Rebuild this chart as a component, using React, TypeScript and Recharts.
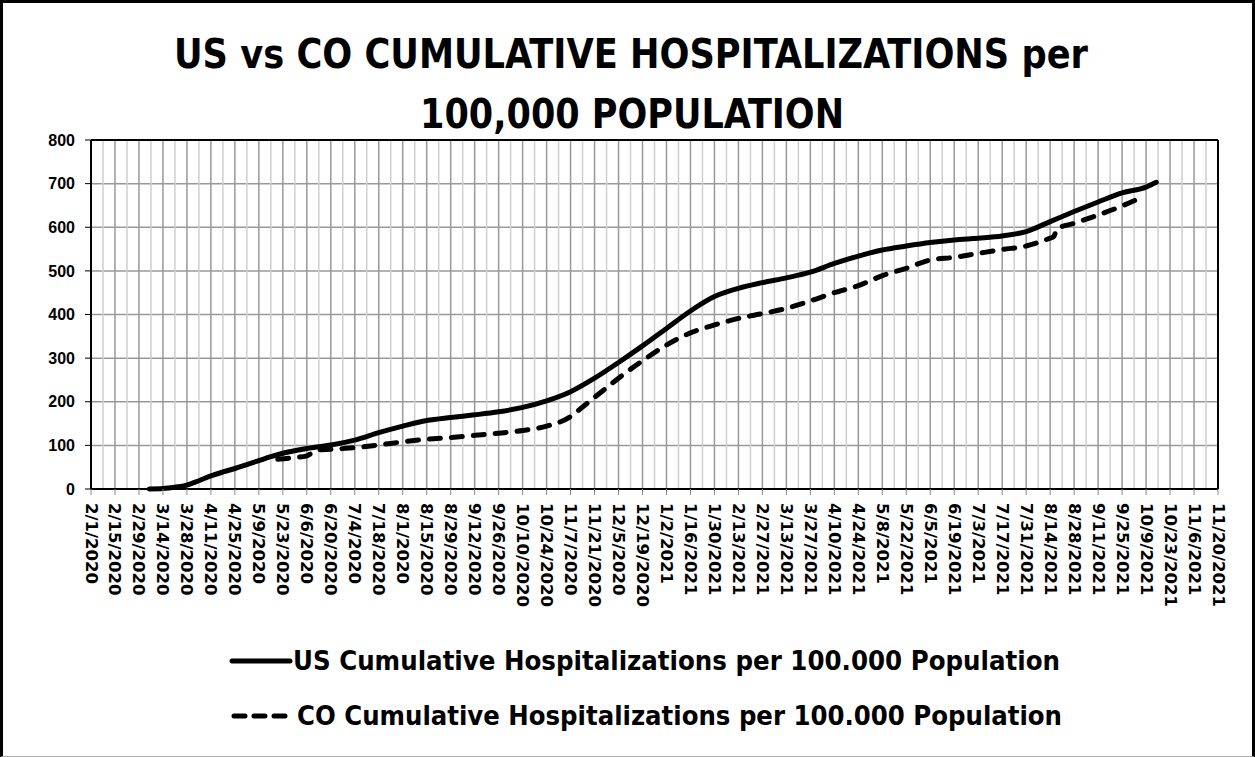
import React from "react";
import {
  LineChart,
  Line,
  XAxis,
  YAxis,
  CartesianGrid,
  ReferenceLine,
} from "recharts";

const tickLabels = [
  "2/1/2020", "2/15/2020", "2/29/2020", "3/14/2020", "3/28/2020", "4/11/2020",
  "4/25/2020", "5/9/2020", "5/23/2020", "6/6/2020", "6/20/2020", "7/4/2020",
  "7/18/2020", "8/1/2020", "8/15/2020", "8/29/2020", "9/12/2020", "9/26/2020",
  "10/10/2020", "10/24/2020", "11/7/2020", "11/21/2020", "12/5/2020", "12/19/2020",
  "1/2/2021", "1/16/2021", "1/30/2021", "2/13/2021", "2/27/2021", "3/13/2021",
  "3/27/2021", "4/10/2021", "4/24/2021", "5/8/2021", "5/22/2021", "6/5/2021",
  "6/19/2021", "7/3/2021", "7/17/2021", "7/31/2021", "8/14/2021", "8/28/2021",
  "9/11/2021", "9/25/2021", "10/9/2021", "10/23/2021", "11/6/2021", "11/20/2021",
];

const yTicks = [0, 100, 200, 300, 400, 500, 600, 700, 800];

const usDates = [
  "3/6/2020", "3/14/2020", "3/21/2020", "3/28/2020", "4/4/2020", "4/11/2020",
  "4/18/2020", "4/25/2020", "5/2/2020", "5/9/2020", "5/16/2020", "5/23/2020",
  "6/6/2020", "6/20/2020", "7/4/2020", "7/18/2020", "8/1/2020", "8/15/2020",
  "8/29/2020", "9/12/2020", "9/26/2020", "10/10/2020", "10/24/2020", "11/7/2020",
  "11/21/2020", "12/5/2020", "12/19/2020", "1/2/2021", "1/16/2021", "1/30/2021",
  "2/13/2021", "2/27/2021", "3/13/2021", "3/27/2021", "4/10/2021", "4/24/2021",
  "5/8/2021", "5/22/2021", "6/5/2021", "6/19/2021", "7/3/2021", "7/17/2021",
  "7/31/2021", "8/14/2021", "8/28/2021", "9/11/2021", "9/25/2021", "10/9/2021",
  "10/15/2021",
];
const usValues = [
  0, 1, 4, 9, 19, 30,
  39, 47, 56, 65, 74, 82,
  93, 101, 112, 129, 144, 157,
  164, 170, 177, 187, 202, 223,
  254, 290, 328, 368, 408, 441,
  460, 473, 484, 497, 517, 534,
  548, 557, 565, 571, 575, 580,
  590, 613, 636, 658, 679, 692,
  703,
];

const coDates = [
  "5/20/2020", "5/30/2020", "6/6/2020", "6/10/2020", "6/13/2020", "6/20/2020",
  "7/4/2020", "7/18/2020", "8/1/2020", "8/15/2020", "8/29/2020", "9/12/2020",
  "9/26/2020", "10/10/2020", "10/24/2020", "11/7/2020", "11/14/2020", "11/21/2020",
  "12/5/2020", "12/19/2020", "1/2/2021", "1/16/2021", "1/30/2021", "2/13/2021",
  "2/27/2021", "3/13/2021", "3/27/2021", "4/10/2021", "4/24/2021", "5/8/2021",
  "5/22/2021", "6/5/2021", "6/19/2021", "7/3/2021", "7/17/2021", "7/31/2021",
  "8/14/2021", "8/16/2021", "8/18/2021", "8/28/2021", "9/11/2021", "9/25/2021",
  "10/5/2021",
];
const coValues = [
  68, 72, 76, 85, 90, 91,
  95, 101, 108, 114, 118, 123,
  128, 134, 144, 166, 188, 210,
  254, 294, 330, 358, 376, 391,
  402, 414, 431, 450, 466, 489,
  506, 525, 531, 540, 549, 557,
  575, 578, 596, 609, 628, 649,
  666,
];

const BASE = Date.UTC(2020, 1, 1);
function toDay(s: string) {
  const [m, d, y] = s.split("/").map(Number);
  return Math.round((Date.UTC(y, m - 1, d) - BASE) / 86400000);
}

const tickDays = tickLabels.map(toDay);
const minorDays = tickDays.slice(0, -1).map((d) => d + 7);
const labelByDay: Record<number, string> = {};
tickDays.forEach((d, i) => (labelByDay[d] = tickLabels[i]));

const usData = usDates.map((d, i) => ({ day: toDay(d), value: usValues[i] }));
const coData = coDates.map((d, i) => ({ day: toDay(d), value: coValues[i] }));

const lastDay = tickDays[tickDays.length - 1];

const DateTick = (props: any) => {
  const { x, y, payload } = props;
  return (
    <text
      transform={`translate(${x},${y}) rotate(90)`}
      textAnchor="start"
      dominantBaseline="central"
      fontFamily="'DejaVu Sans', sans-serif"
      fontWeight="bold"
      fontSize={16.5}
      fill="#000"
    >
      {labelByDay[payload.value]}
    </text>
  );
};

const titleFont = "'Liberation Sans Narrow', 'DejaVu Sans Condensed', 'Liberation Sans', sans-serif";

export default function App() {
  return (
    <div
      style={{
        position: "relative",
        width: 1255,
        height: 757,
        background: "#fff",
        boxSizing: "border-box",
        borderTop: "3px solid #000",
        borderLeft: "3px solid #000",
        borderRight: "3px solid #000",
        borderBottom: "1px solid #aaa",
      }}
    >
      <style>{`body{margin:0}`}</style>
      <div style={{ position: "absolute", left: -3, top: -3 }}>
        <LineChart
          width={1255}
          height={757}
          data={usData}
          margin={{ top: 140, right: 37, left: 41, bottom: 108 }}
        >
          <CartesianGrid stroke="#999" strokeWidth={1.5} />
          {minorDays.map((d) => (
            <ReferenceLine key={d} x={d} stroke="#cfcfcf" strokeWidth={1.5} />
          ))}
          <ReferenceLine y={800} stroke="#000" strokeWidth={2} />
          <ReferenceLine x={lastDay} stroke="#000" strokeWidth={2} />
          <XAxis
            type="number"
            dataKey="day"
            domain={[0, lastDay]}
            ticks={tickDays}
            interval={0}
            height={160}
            tick={<DateTick />}
            tickSize={6}
            tickMargin={8}
            axisLine={{ stroke: "#000", strokeWidth: 2 }}
            tickLine={{ stroke: "#888" }}
            allowDataOverflow
          />
          <YAxis
            domain={[0, 800]}
            ticks={yTicks}
            width={50}
            tickSize={6}
            tickMargin={10}
            axisLine={{ stroke: "#000", strokeWidth: 2 }}
            tickLine={{ stroke: "#000" }}
            tick={{
              fill: "#000",
              fontSize: 16,
              fontWeight: "bold",
              fontFamily: "'Liberation Sans', sans-serif",
            }}
          />
          <Line
            data={usData}
            type="monotone"
            dataKey="value"
            stroke="#000"
            strokeWidth={5}
            strokeLinecap="round"
            dot={false}
            isAnimationActive={false}
          />
          <Line
            data={coData}
            type="monotone"
            dataKey="value"
            stroke="#000"
            strokeWidth={5}
            strokeLinecap="round"
            strokeDasharray="11 11"
            dot={false}
            isAnimationActive={false}
          />
        </LineChart>
      </div>
      <svg
        width={1255}
        height={757}
        style={{ position: "absolute", left: -3, top: -3, pointerEvents: "none" }}
      >
        <text
          x={174}
          y={68}
          textLength={914}
          lengthAdjust="spacingAndGlyphs"
          fontFamily={titleFont}
          fontWeight="bold"
          fontSize={41}
          fill="#000"
        >
          US vs CO CUMULATIVE HOSPITALIZATIONS per
        </text>
        <text
          x={420}
          y={128}
          textLength={424}
          lengthAdjust="spacingAndGlyphs"
          fontFamily={titleFont}
          fontWeight="bold"
          fontSize={41}
          fill="#000"
        >
          100,000 POPULATION
        </text>
        <line x1={232} y1={661} x2={290} y2={661} stroke="#000" strokeWidth={5} strokeLinecap="round" />
        <text
          x={293}
          y={670}
          textLength={767}
          lengthAdjust="spacingAndGlyphs"
          fontFamily={titleFont}
          fontWeight="bold"
          fontSize={26}
          fill="#000"
        >
          US Cumulative Hospitalizations per 100.000 Population
        </text>
        <line
          x1={234}
          y1={716}
          x2={286}
          y2={716}
          stroke="#000"
          strokeWidth={5}
          strokeLinecap="round"
          strokeDasharray="11 9"
        />
        <text
          x={297}
          y={725}
          textLength={765}
          lengthAdjust="spacingAndGlyphs"
          fontFamily={titleFont}
          fontWeight="bold"
          fontSize={26}
          fill="#000"
        >
          CO Cumulative Hospitalizations per 100.000 Population
        </text>
      </svg>
    </div>
  );
}
